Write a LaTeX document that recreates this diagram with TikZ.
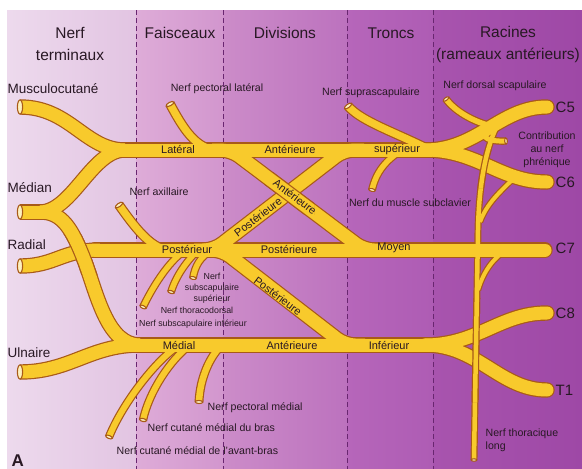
\documentclass[tikz,border=0pt]{standalone}
\usepackage{fontspec}
\setmainfont{Liberation Sans}
\definecolor{bord}{RGB}{168,90,24}
\definecolor{jaune}{RGB}{248,202,44}
\definecolor{pale}{RGB}{253,240,190}
\definecolor{tiret}{RGB}{105,38,112}
\definecolor{encre}{RGB}{40,24,36}
\definecolor{colA}{RGB}{237,218,237}
\definecolor{colB}{RGB}{226,196,226}
\definecolor{colC}{RGB}{222,172,216}
\definecolor{colD}{RGB}{210,150,206}
\definecolor{colE}{RGB}{204,140,201}
\definecolor{colF}{RGB}{188,114,190}
\definecolor{colG}{RGB}{182,102,186}
\definecolor{colH}{RGB}{174,92,180}
\definecolor{colI}{RGB}{168,84,174}
\definecolor{colJ}{RGB}{158,72,166}

\begin{document}
\begin{tikzpicture}[x=1pt, y=-1pt,
  txt/.style={text=encre, inner sep=0.5pt},
  titre/.style={txt, font=\fontsize{15.5}{22}\selectfont, align=center},
  terme/.style={txt, anchor=west, font=\fontsize{13.5}{16}\selectfont},
  racine/.style={txt, anchor=west, font=\fontsize{15}{17}\selectfont},
  cordon/.style={txt, font=\fontsize{11}{13}\selectfont},
  petit/.style={txt, font=\fontsize{10.6}{13}\selectfont},
  mini/.style={txt, inner sep=0pt, font=\fontsize{8.8}{11}\selectfont, align=center},
  coupe/.style={draw=bord, fill=pale, line width=1.1pt}]
  \useasboundingbox (0,0) rectangle (582,469);
  \fill[white] (0,0) rectangle (582,469);
  % --- fonds des colonnes ---
  \shade[left color=colA, right color=colB] (7,10) rectangle (136,469);
  \shade[left color=colC, right color=colD] (136,10) rectangle (223,469);
  \shade[left color=colE, right color=colF] (223,10) rectangle (347,469);
  \shade[left color=colG, right color=colH] (347,10) rectangle (433,469);
  \shade[left color=colI, right color=colJ] (433,10) rectangle (582,469);
  \foreach \x in {136,223,347,433}
    \draw[tiret, line width=0.9pt, dash pattern=on 5pt off 3pt] (\x,10) -- (\x,469);

  % --- nerfs : contour puis remplissage ---
  \foreach \c/\e in {bord/2.4, jaune/0} {
    % troncs, divisions, faisceaux
    \draw[draw=\c, line width=13pt+\e pt] (118,150) -- (432,150);
    \draw[draw=\c, line width=13pt+\e pt, line cap=round] (95,250) -- (545,250);
    \draw[draw=\c, line width=13pt+\e pt] (128,345) -- (435,345);
    \draw[draw=\c, line width=13pt+\e pt, rounded corners=10pt] (212,150) -- (231,150) -- (364,250) -- (384,250);
    \draw[draw=\c, line width=13pt+\e pt, rounded corners=10pt] (194,250) -- (214,250) -- (344,150) -- (364,150);
    \draw[draw=\c, line width=13pt+\e pt, rounded corners=10pt] (202,250) -- (222,250) -- (345,345) -- (365,345);
    % racines
    \draw[draw=\c, line width=13pt+\e pt, line cap=round] (425,150) .. controls (478,150) and (500,107) .. (547,107);
    \draw[draw=\c, line width=13pt+\e pt, line cap=round] (425,150) .. controls (478,150) and (500,182) .. (547,182);
    \draw[draw=\c, line width=13pt+\e pt, line cap=round] (425,345) .. controls (478,345) and (500,313) .. (547,313);
    \draw[draw=\c, line width=13pt+\e pt, line cap=round] (425,345) .. controls (478,345) and (500,390) .. (547,390);
    % nerfs terminaux
    \draw[draw=\c, line width=13pt+\e pt] (20,107) .. controls (70,107) and (85,150) .. (125,150);
    \draw[draw=\c, line width=13pt+\e pt] (20,212) -- (44,212);
    \draw[draw=\c, line width=13pt+\e pt] (40,212) .. controls (72,212) and (92,150) .. (125,150);
    \draw[draw=\c, line width=13pt+\e pt] (40,212) .. controls (62,212) and (72,228) .. (85,262)
      .. controls (98,298) and (108,345) .. (140,345);
    \draw[draw=\c, line width=13pt+\e pt] (20,266) .. controls (55,266) and (62,250) .. (100,250);
    \draw[draw=\c, line width=13pt+\e pt] (20,372) .. controls (70,372) and (90,345) .. (140,345);
    % branches collaterales
    \draw[draw=\c, line width=7.5pt+\e pt] (218,150) .. controls (196,150) and (183,128) .. (170,104);
    \draw[draw=\c, line width=7.5pt+\e pt] (168,250) .. controls (150,248) and (134,226) .. (119,205);
    \draw[draw=\c, line width=5.5pt+\e pt] (186,250) .. controls (172,258) and (155,282) .. (143,307);
    \draw[draw=\c, line width=5.5pt+\e pt] (198,250) .. controls (186,262) and (176,276) .. (171,292);
    \draw[draw=\c, line width=5.5pt+\e pt] (212,250) .. controls (200,257) and (195,266) .. (193,278);
    \draw[draw=\c, line width=6pt+\e pt] (180,345) .. controls (160,356) and (124,400) .. (109,437);
    \draw[draw=\c, line width=6pt+\e pt] (190,345) .. controls (170,360) and (149,392) .. (143,420);
    \draw[draw=\c, line width=6.5pt+\e pt] (222,345) .. controls (210,356) and (200,378) .. (199,402);
    \draw[draw=\c, line width=7.5pt+\e pt] (432,151) .. controls (395,132) and (362,122) .. (348,106);
    \draw[draw=\c, line width=5.5pt+\e pt] (402,150) .. controls (386,160) and (376,172) .. (372,190);
    \draw[draw=\c, line width=5.5pt+\e pt] (495,127) .. controls (472,122) and (454,110) .. (446,99);
    \draw[draw=\c, line width=5pt+\e pt] (494,126) .. controls (476,134) and (484,142) .. (506,141);
    % nerf thoracique long
    \draw[draw=\c, line width=4.5pt+\e pt] (498,124) .. controls (487,145) and (479,180) .. (478,230) -- (474,460);
    \draw[draw=\c, line width=4pt+\e pt] (515,177) .. controls (500,192) and (487,203) .. (480,222);
    \draw[draw=\c, line width=4pt+\e pt] (506,250) .. controls (494,258) and (484,270) .. (478,290);
  }

  % --- croisements ---
  \begin{scope}
    \clip (264,172) rectangle (314,214);
    \foreach \c/\e in {bord/2.4, jaune/0}
      \draw[draw=\c, line width=13pt+\e pt, rounded corners=10pt] (212,150) -- (231,150) -- (364,250) -- (384,250);
  \end{scope}
  \begin{scope}
    \clip (58,234) rectangle (100,274);
    \foreach \c/\e in {bord/2.4, jaune/0}
      \draw[draw=\c, line width=13pt+\e pt] (40,212) .. controls (62,212) and (72,228) .. (85,262)
        .. controls (98,298) and (108,345) .. (140,345);
  \end{scope}
  \begin{scope}
    \clip (468,150) rectangle (497,188) (462,298) rectangle (490,402);
    \foreach \c/\e in {bord/2.4, jaune/0}
      \draw[draw=\c, line width=4.5pt+\e pt] (498,124) .. controls (487,145) and (479,180) .. (478,230) -- (474,460);
  \end{scope}

  % --- extremites coupees ---
  \foreach \px/\py/\a/\r/\s in {20/107/0/7.05/2.6, 20/212/0/7.05/2.6, 20/266/0/7.05/2.6, 20/372/0/7.05/2.6,
      170/104/118/4.3/1.7, 119/205/125/4.3/1.7, 143/307/244/3.3/1.4, 171/292/253/3.3/1.4,
      193/278/260/3.3/1.4, 109/437/248/3.55/1.5, 143/420/258/3.55/1.5, 199/402/268/3.8/1.5,
      348/106/127/4.3/1.7, 372/190/258/3.3/1.4, 446/99/126/3.3/1.4, 506/141/3/3.05/1.3,
      474/460/269/2.8/1.2}
    \draw[coupe, rotate around={\a:(\px,\py)}] (\px,\py) ellipse [x radius=\s, y radius=\r];

  % --- titres ---
  \node[titre] (tTerm) at (70,44) {Nerf\\terminaux};
  \node[titre] (tFais) at (180,33) {Faisceaux};
  \node[titre] (tDiv) at (285,33) {Divisions};
  \node[titre] (tTronc) at (391,33) {Troncs};
  \node[titre] (tRac) at (508,44) {Racines\\(rameaux antérieurs)};
  % nerfs terminaux
  \node[terme] (nMusc) at (7,89) {Musculocutané};
  \node[terme] (nMed) at (7,188) {Médian};
  \node[terme] (nRad) at (7,245) {Radial};
  \node[terme] (nUln) at (7,353) {Ulnaire};
  % racines
  \node[racine] (rC5) at (555,107) {C5};
  \node[racine] (rC6) at (555,182) {C6};
  \node[racine] (rC7) at (555,248) {C7};
  \node[racine] (rC8) at (555,313) {C8};
  \node[racine] (rT1) at (555,390) {T1};
  % faisceaux, divisions, troncs
  \node[cordon] (fLat) at (178,150) {Latéral};
  \node[cordon] (dAnt1) at (290,150) {Antérieure};
  \node[cordon] (tSup) at (397,150) {supérieur};
  \node[cordon] (fPost) at (187,250) {Postérieur};
  \node[cordon] (dPost2) at (289,250) {Postérieure};
  \node[cordon] (tMoy) at (394,248) {Moyen};
  \node[cordon] (fMed) at (179,345) {Médial};
  \node[cordon] (dAnt3) at (292,345) {Antérieure};
  \node[cordon] (tInf) at (389,345) {Inférieur};
  \node[cordon, rotate=-37] (dAnt2) at (295,197) {Antérieure};
  \node[cordon, rotate=37] (dPost1) at (258,217) {Postérieure};
  \node[cordon, rotate=-37] (dPost3) at (278,296) {Postérieure};
  % branches
  \node[petit] (bPecL) at (217,89) {Nerf pectoral latéral};
  \node[petit] (bAxi) at (159,192) {Nerf axillaire};
  \node[petit] (bSupra) at (371,93) {Nerf suprascapulaire};
  \node[petit] (bSubcl) at (410,203) {Nerf du muscle subclavier};
  \node[petit] (bDors) at (495,86) {Nerf dorsal scapulaire};
  \node[petit, align=center] (bPhren) at (547,150) {Contribution\\au nerf\\phrénique};
  \node[petit, align=left, anchor=west] (bThor) at (485,440) {Nerf thoracique\\long};
  \node[mini] (bSubS) at (212,288) {Nerf\\subscapulaire\\supérieur};
  \node[mini] (bThd) at (197,310) {Nerf thoracodorsal};
  \node[mini] (bSubI) at (193,324) {Nerf subscapulaire inférieur};
  \node[petit, anchor=west] (bPecM) at (207,408) {Nerf pectoral médial};
  \node[petit, anchor=west] (bCutB) at (147,428) {Nerf cutané médial du bras};
  \node[petit, anchor=west] (bCutA) at (116,451) {Nerf cutané médial de l'avant-bras};
  \node[txt, anchor=west, font=\fontsize{17}{17}\selectfont\bfseries] (lA) at (11,461) {A};
\end{tikzpicture}
\end{document}
